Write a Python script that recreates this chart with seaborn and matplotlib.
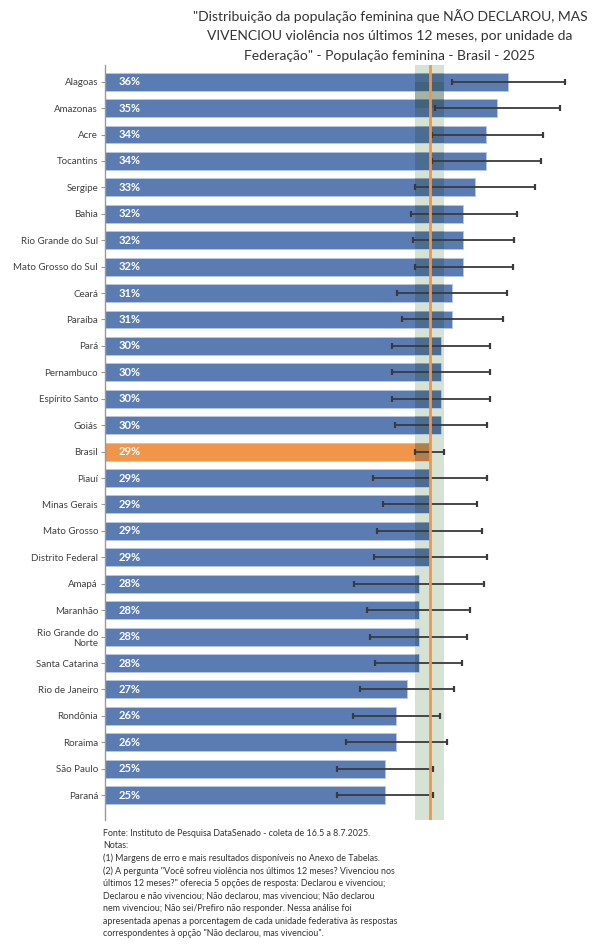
import numpy as np
import pandas as pd
import matplotlib
matplotlib.use("Agg")
import matplotlib.pyplot as plt
from matplotlib.patches import Rectangle
import seaborn as sns

# Data
estados = ["Alagoas", "Amazonas", "Acre", "Tocantins", "Sergipe", "Bahia",
           "Rio Grande do Sul", "Mato Grosso do Sul", "Ceará", "Paraíba", "Pará",
           "Pernambuco", "Espírito Santo", "Goiás", "Brasil", "Piauí",
           "Minas Gerais", "Mato Grosso", "Distrito Federal", "Amapá", "Maranhão",
           "Rio Grande do\nNorte", "Santa Catarina", "Rio de Janeiro", "Rondônia",
           "Roraima", "São Paulo", "Paraná"]
percentual = [36, 35, 34, 34, 33, 32, 32, 32, 31, 31, 30, 30, 30, 30, 29, 29,
              29, 29, 29, 28, 28, 28, 28, 27, 26, 26, 25, 25]
limite_inf = [31.0, 29.5, 29.2, 29.2, 27.7, 27.3, 27.5, 27.7, 26.1, 26.5, 25.6,
              25.6, 25.6, 25.9, 27.7, 23.9, 24.8, 24.3, 24.0, 22.2, 23.4, 23.7,
              24.1, 22.8, 22.1, 21.5, 20.7, 20.7]
limite_sup = [41.1, 40.6, 39.1, 38.9, 38.4, 36.8, 36.5, 36.4, 35.9, 35.5, 34.4,
              34.4, 34.4, 34.1, 30.3, 34.1, 33.2, 33.7, 34.1, 33.8, 32.6, 32.3,
              31.9, 31.2, 29.9, 30.5, 29.3, 29.3]
brasil_valor = 29
brasil_ic = (27.7, 30.3)

titulo = ('"Distribuição da população feminina que NÃO DECLAROU, MAS\n'
          'VIVENCIOU violência nos últimos 12 meses, por unidade da\n'
          'Federação" - População feminina - Brasil - 2025')
notas = [
    "Fonte: Instituto de Pesquisa DataSenado - coleta de 16.5 a 8.7.2025.",
    "Notas:",
    "(1) Margens de erro e mais resultados disponíveis no Anexo de Tabelas.",
    "(2) A pergunta \"Você sofreu violência nos últimos 12 meses? Vivenciou nos",
    "últimos 12 meses?\" oferecia 5 opções de resposta: Declarou e vivenciou;",
    "Declarou e não vivenciou; Não declarou, mas vivenciou; Não declarou",
    "nem vivenciou; Não sei/Prefiro não responder. Nessa análise foi",
    "apresentada apenas a porcentagem de cada unidade federativa às respostas",
    "correspondentes à opção \"Não declarou, mas vivenciou\".",
]

azul = "#5b7cb3"
laranja = "#f0954a"

df = pd.DataFrame({"estado": estados, "pct": percentual})

sns.set_style("white")
plt.rcParams["font.family"] = ["Lato", "DejaVu Sans"]

fig = plt.figure(figsize=(6.01, 9.5), dpi=100)
ax = fig.add_axes([105 / 601, 1 - 820 / 950, 485 / 601, 755 / 950])

# faixa da margem do Brasil (fundo)
ax.axvspan(brasil_ic[0], brasil_ic[1], color="#d6e2d4", zorder=0, lw=0)

cores = {e: (laranja if e == "Brasil" else azul) for e in estados}
sns.barplot(data=df, x="pct", y="estado", hue="estado", palette=cores,
            legend=False, orient="h", width=0.68, ax=ax,
            edgecolor="#b8c8e4", linewidth=0.6, saturation=1, zorder=1)

# faixa escurecendo as barras onde se sobrepõem
for barra in list(ax.patches):
    x0, x1 = barra.get_x(), barra.get_x() + barra.get_width()
    a, b = max(x0, brasil_ic[0]), min(x1, brasil_ic[1])
    if b > a:
        ax.add_patch(Rectangle((a, barra.get_y()), b - a, barra.get_height(),
                               facecolor="#2c4c48", alpha=0.3, lw=0, zorder=2))

# margens de erro
pos = np.arange(len(estados))
pct = np.array(percentual, dtype=float)
xerr = np.vstack([pct - np.array(limite_inf), np.array(limite_sup) - pct])
ax.errorbar(pct, pos, xerr=xerr, fmt="none", ecolor="#3a3a3a",
            elinewidth=1.3, capsize=2.2, capthick=1.6, zorder=4)

ax.axvline(brasil_valor, color=laranja, lw=2, zorder=6)

# rótulos de valor
for i, v in enumerate(percentual):
    ax.text(1.2, i, f"{v}%", color="white", fontsize=8, fontweight="bold",
            va="center", ha="left", zorder=7)

ax.set_xlim(0, 43.3)
ax.set_ylim(len(estados) - 1 + 0.94, -0.63)
ax.set_xlabel("")
ax.set_ylabel("")
ax.set_xticks([])
ax.tick_params(axis="y", length=3, width=0.8, color="#999999", pad=2,
               labelsize=7, labelcolor="#404040", left=True)
for lado in ["top", "right", "bottom"]:
    ax.spines[lado].set_visible(False)
ax.spines["left"].set_color("#999999")
ax.spines["left"].set_linewidth(1)

fig.text(390 / 601, 1 - 9 / 950, titulo, ha="center", va="top", fontsize=10,
         color="#333333", linespacing=1.75)

y0 = 833
for k, linha in enumerate(notas):
    fig.text(103 / 601, 1 - (y0 + k * 12.6) / 950, linha, ha="left",
             va="center", fontsize=6.4, color="#333333")

fig.savefig("out.png", dpi=100)
